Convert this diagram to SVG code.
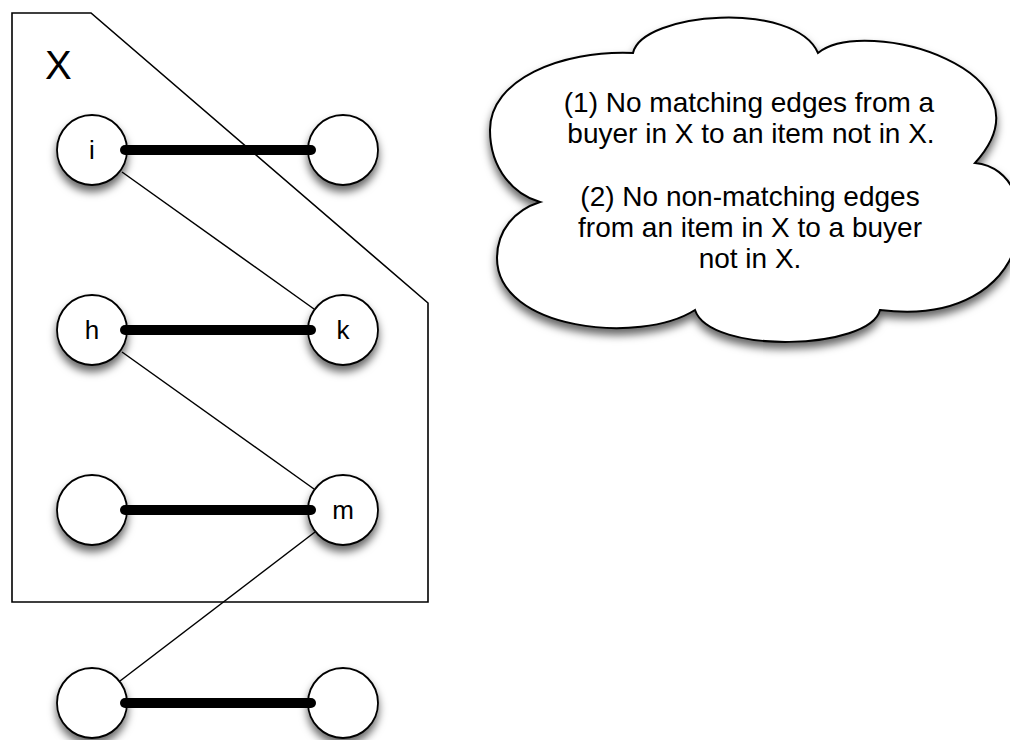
<svg xmlns="http://www.w3.org/2000/svg" width="1010" height="740" viewBox="0 0 1010 740">
<defs>
<filter id="sh" x="-30%" y="-30%" width="160%" height="170%">
<feDropShadow dx="0" dy="6" stdDeviation="4.5" flood-color="#000" flood-opacity="0.6"/>
</filter>
</defs>
<style>
.node circle{fill:#fff;stroke:#000;stroke-width:1.8;filter:url(#sh)}
.lbl{font-family:"Liberation Sans",Arial,sans-serif;font-size:26px;text-anchor:middle;fill:#000}
.match{stroke:#000;stroke-width:10;stroke-linecap:round}
.thin{stroke:#000;stroke-width:1.5}
.cloudtext{font-family:"Liberation Sans",Arial,sans-serif;font-size:28px;text-anchor:middle;fill:#000}
</style>
<rect width="1010" height="740" fill="#fff"/>
<g id="setX">
<polygon points="12,13 91,13 428,303 428,602 12,602" fill="none" stroke="#000" stroke-width="1.6"/>
<text x="45" y="79" font-family="'Liberation Sans',Arial,sans-serif" font-size="40">X</text>
</g>
<g id="cloud">
<path d="M633,53 C642,12 795,0 818,53 C865,15 1060,70 975,163 C1050,170 1040,330 880,310 C870,350 710,355 695,310 C640,345 497,330 497,258 C497,230 515,210 540,202 C515,195 490,170 490,130 C490,80 560,50 633,53 Z" fill="#fff" stroke="#000" stroke-width="2" filter="url(#sh)"/>
<text class="cloudtext" x="749" y="112">(1) No matching edges from a</text>
<text class="cloudtext" x="751" y="143">buyer in X to an item not in X.</text>
<text class="cloudtext" x="750" y="206">(2) No non-matching edges</text>
<text class="cloudtext" x="750" y="237">from an item in X to a buyer</text>
<text class="cloudtext" x="750" y="268">not in X.</text>
</g>
<g id="n_i" class="node"><circle cx="92" cy="150" r="35"/><text class="lbl" x="92" y="159">i</text></g>
<g id="n_r1" class="node"><circle cx="343" cy="150" r="35"/></g>
<g id="n_h" class="node"><circle cx="92" cy="330" r="35"/><text class="lbl" x="92" y="339">h</text></g>
<g id="n_k" class="node"><circle cx="343" cy="330" r="35"/><text class="lbl" x="343" y="339">k</text></g>
<g id="n_l3" class="node"><circle cx="92" cy="510" r="35"/></g>
<g id="n_m" class="node"><circle cx="343" cy="510" r="35"/><text class="lbl" x="343" y="519">m</text></g>
<g id="n_l4" class="node"><circle cx="92" cy="703" r="35"/></g>
<g id="n_r4" class="node"><circle cx="343" cy="703" r="35"/></g>
<g id="edges">
<line class="match" x1="125" y1="150" x2="311" y2="150"/>
<line class="match" x1="125" y1="330" x2="311" y2="330"/>
<line class="match" x1="125" y1="510" x2="311" y2="510"/>
<line class="match" x1="125" y1="703" x2="311" y2="703"/>
<line class="thin" x1="122" y1="172" x2="314" y2="309"/>
<line class="thin" x1="122" y1="352" x2="314" y2="489"/>
<line class="thin" x1="315" y1="532" x2="120" y2="681"/>
</g>
</svg>
